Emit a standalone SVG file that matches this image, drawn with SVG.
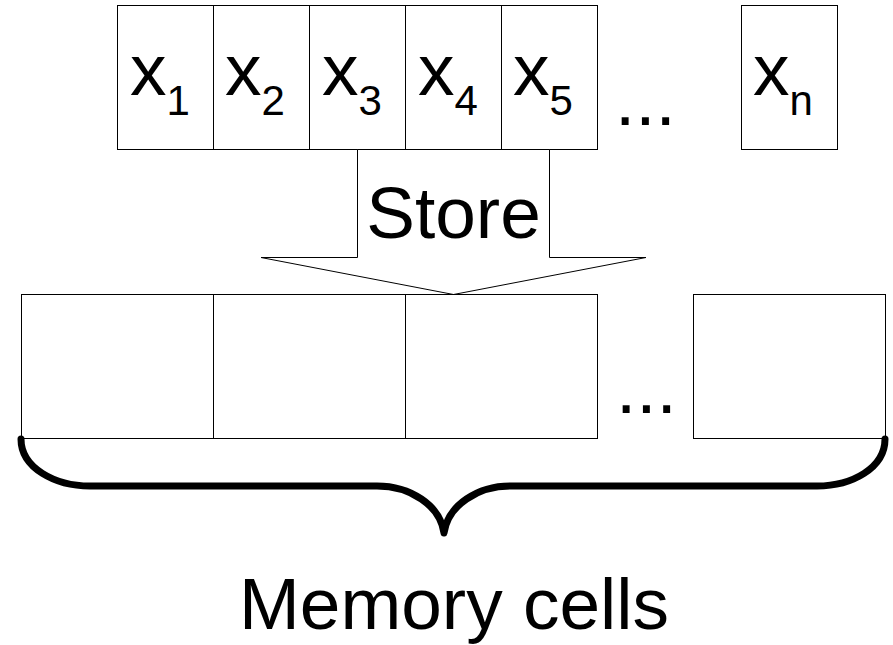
<svg xmlns="http://www.w3.org/2000/svg" width="893" height="645" viewBox="0 0 893 645">
<style>
.box{fill:#fff;stroke:#000;stroke-width:1}
.t{font-family:Arial,"Liberation Sans",Helvetica,sans-serif;fill:#000}
.big{font-size:73px}
.sub{font-size:42px}
.brace{fill:none;stroke:#000;stroke-width:7;stroke-linecap:round;stroke-linejoin:round}
</style>
<rect width="893" height="645" fill="#fff"/>
<g id="x1"><rect class="box" x="117.5" y="5.5" width="96" height="144"/><text class="t big" x="130" y="95">x<tspan class="sub" dy="20">1</tspan></text></g>
<g id="x2"><rect class="box" x="213.5" y="5.5" width="96" height="144"/><text class="t big" x="225" y="95">x<tspan class="sub" dy="20">2</tspan></text></g>
<g id="x3"><rect class="box" x="309.5" y="5.5" width="96" height="144"/><text class="t big" x="322" y="95">x<tspan class="sub" dy="20">3</tspan></text></g>
<g id="x4"><rect class="box" x="405.5" y="5.5" width="96" height="144"/><text class="t big" x="418" y="95">x<tspan class="sub" dy="20">4</tspan></text></g>
<g id="x5"><rect class="box" x="501.5" y="5.5" width="96" height="144"/><text class="t big" x="513" y="95">x<tspan class="sub" dy="20">5</tspan></text></g>
<g id="dots-top"><text class="t big" x="615" y="125">...</text></g>
<g id="xn"><rect class="box" x="741.5" y="5.5" width="96" height="144"/><text class="t big" x="753" y="95">x<tspan class="sub" dy="20">n</tspan></text></g>
<g id="store"><polygon class="box" points="357.5,149.5 549.5,149.5 549.5,257.5 646,257.5 453.5,294.5 261,257.5 357.5,257.5"/><text class="t big" x="453.5" y="238" text-anchor="middle">Store</text></g>
<g id="mem1"><rect class="box" x="21.5" y="294.5" width="192" height="144"/></g>
<g id="mem2"><rect class="box" x="213.5" y="294.5" width="192" height="144"/></g>
<g id="mem3"><rect class="box" x="405.5" y="294.5" width="192" height="144"/></g>
<g id="dots-mem"><text class="t big" x="616" y="413">...</text></g>
<g id="memn"><rect class="box" x="693.5" y="294.5" width="192" height="144"/></g>
<g id="connectors"><path class="brace" d="M21,439 C21,468 55,486 90,486 L377,486 C410,486 440,505 444,533 C448,505 478,486 510,486 L817,486 C852,486 885,468 885,439"/></g>
<g id="label"><text class="t big" x="454" y="629" text-anchor="middle">Memory cells</text></g>
</svg>
